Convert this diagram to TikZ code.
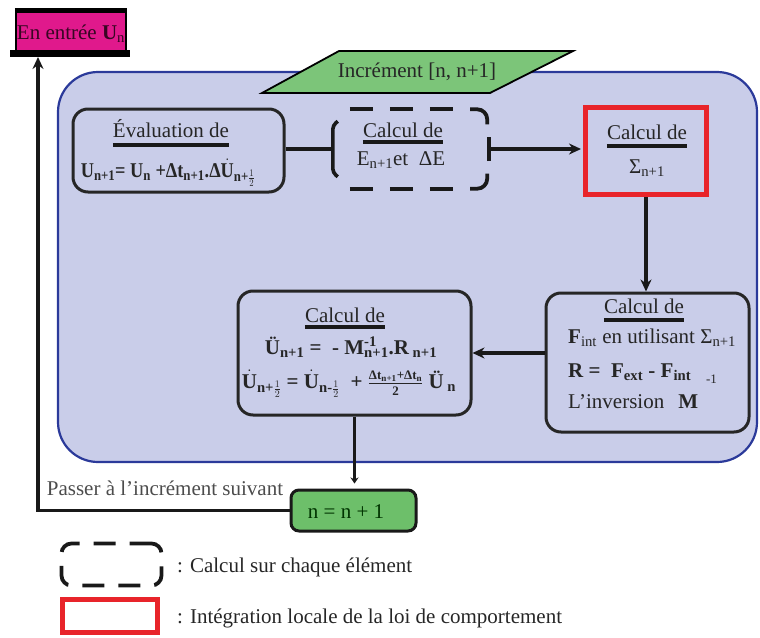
\documentclass[tikz,border=0pt]{standalone}
\usepackage{fontspec}
\setmainfont{Liberation Serif}
\usetikzlibrary{arrows.meta,calc}
\definecolor{bgc}{HTML}{C9CDE9}
\definecolor{bdr}{HTML}{2B3A9A}
\definecolor{grn}{HTML}{6DBF6A}
\definecolor{mag}{HTML}{E0198C}
\definecolor{rd}{HTML}{E8242A}
\newcommand\sbs[1]{\textsubscript{#1}}
\newcommand\sps[1]{\textsuperscript{#1}}
\newcommand\Ud{\ensuremath{\dot{\mbox{\bfseries U}}}}
\newcommand\hlf{\ensuremath{\frac{1}{2}}}
\newcommand\smf{\fontsize{13}{15}\selectfont}
\begin{document}
\begin{tikzpicture}[x=1pt,y=-1pt,
  fs/.style={font=\fontsize{21}{24}\selectfont, text=black!85, inner sep=0pt},
  rbox/.style={draw=black!85, line width=3pt, rounded corners=15pt, inner sep=0pt},
  ul/.style={line width=3.6pt, black!90},
  conn/.style={line width=3.2pt, black!90},
  tip/.style={-{Stealth[length=12pt,width=11pt]}},
  dsh/.style={line width=3.8pt, black!90, dash pattern=on 23pt off 17pt},
  dcorner/.style={line width=3.8pt, black!90, rounded corners=10pt}]
\useasboundingbox (0,0) rectangle (760,637);

% big background region
\node[draw=bdr, fill=bgc, line width=2.2pt, rounded corners=40pt,
      minimum width=699pt, minimum height=390pt, inner sep=0pt] (B) at (407.5,267) {};

% parallelogram
\draw[fill=grn!90!white, draw=black, line width=1.8pt] (262,93) -- (490,93) -- (573,51) -- (339,51) -- cycle;
\node[fs] (P) at (417,72) {Incrément [n, n+1]};

% input box
\node[draw=black, fill=mag, line width=2.2pt, minimum width=110pt, minimum height=40pt, inner sep=0pt] (M) at (71,32) {};
\draw[line width=5pt] (M.north west) -- (M.north east);
\draw[line width=7pt] (10,53.5) -- (130,53.5);
\coordinate (Mb) at (71,57);
\node[fs, text=black!75!mag, anchor=base] (Mt) at (71,39) {En entrée \textbf{U}\sbs{n}};

% Evaluation box
\node[rbox, minimum width=211pt, minimum height=83pt] (E) at (178.5,150.5) {};
\node[fs, anchor=base] (Eh) at (171,137) {Évaluation de};
\draw[ul] ([yshift=-8pt]Eh.base west) -- ([yshift=-8pt]Eh.base east);
\node[fs, anchor=base] (Ef) at (168,177) {\scalebox{0.87}[1]{\textbf{U\sbs{n+1}= U\sbs{n} +Δt\sbs{n+1}.Δ\Ud\sbs{n+\hlf}}}};

% dashed box (element level)
\node[minimum width=154pt, minimum height=79pt, inner sep=0pt] (D) at (410,149) {};
\draw[dsh] ([xshift=17pt]D.north west) -- ([xshift=-30pt]D.north east);
\draw[dsh] ([xshift=17pt]D.south west) -- ([xshift=-30pt]D.south east);
\draw[dcorner] ([xshift=-17pt]D.north east) -- (D.north east) -- ([yshift=-15pt]D.north east);
\draw[dcorner] ([xshift=-17pt]D.south east) -- (D.south east) -- ([yshift=15pt]D.south east);
\draw[line width=3.6pt, black!90, rounded corners=4pt] ([xshift=5pt,yshift=-12pt]D.north west) -- ([yshift=-16pt]D.north west) -- ([yshift=16pt]D.south west) -- ([xshift=5pt,yshift=12pt]D.south west);
\node[fs, anchor=base] (Dh) at (403,137) {Calcul de};
\draw[ul] ([yshift=-5pt]Dh.base west) -- ([yshift=-5pt]Dh.base east);
\node[fs, anchor=base] (Df) at (401,165) {E\sbs{n+1}et~ ΔE};

% red box (constitutive law)
\node[draw=rd, line width=5pt, minimum width=121pt, minimum height=87pt, inner sep=0pt] (R) at (646,151) {};
\node[fs, anchor=base] (Rh) at (647,139) {Calcul de};
\draw[ul] ([yshift=-7pt]Rh.base west) -- ([yshift=-7pt]Rh.base east);
\node[fs, anchor=base] (Rf) at (647,173) {Σ\sbs{n+1}};

% right box
\node[rbox, minimum width=203pt, minimum height=139pt] (F) at (647.5,362.5) {};
\node[fs, anchor=base] (Fh) at (644,313) {Calcul de};
\draw[ul] ([yshift=-7pt]Fh.base west) -- ([yshift=-7pt]Fh.base east);
\node[fs, anchor=base west] (F1) at (568,343) {\textbf{F}\sbs{int} en utilisant Σ\sbs{n+1}};
\node[fs, anchor=base west] (F2) at (568,377) {\textbf{R =~ F\sbs{ext} - F\sbs{int}}};
\node[fs, anchor=base west] (F3) at (568,408) {L'inversion\hspace{14pt}\textbf{M}\hspace{8pt}\raisebox{25pt}{\smf -1}};

% left box
\node[rbox, minimum width=233pt, minimum height=124pt] (L) at (354.5,353) {};
\node[fs, anchor=base] (Lh) at (345,322) {Calcul de};
\draw[ul] ([yshift=-5pt]Lh.base west) -- ([yshift=-5pt]Lh.base east);
\node[fs, anchor=base] (L1) at (351,354) {\textbf{Ü\sbs{n+1} = ~- M\rlap{\sps{-1}}\sbs{n+1}.R\sbs{~n+1}}};
\node[fs, anchor=base] (L2) at (349,388) {\textbf{\Ud\sbs{n+\hlf} = \Ud\sbs{n-\hlf}~ + \ensuremath{\frac{\mbox{\smf\bfseries Δt\sbs{n+1}+Δt\sbs{n}}}{\mbox{\smf\bfseries 2}}} Ü\sbs{~n}}};

% increment box
\node[draw=black!90, fill=grn, line width=3pt, rounded corners=8pt, minimum width=125pt, minimum height=41pt, inner sep=0pt] (G) at (353.5,510.5) {};
\node[fs, text=black!80!green] (Gt) at (346,512) {n = n + 1};
\node[fs, text=black!70] (Pt) at (165,488) {Passer à l'incrément suivant};

% connectors
\draw[conn] (E.east |- D.west) -- (D.west);
\draw[conn, {Bar[width=24pt,line width=3.8pt]}-{Stealth[length=12pt,width=11pt]}] (D.east) -- ([xshift=-2pt]D.east -| R.west);
\draw[conn, tip] (R.south) -- (R.south |- F.north);
\draw[conn, tip] (F.west |- L.east) -- (L.east);
\draw[conn, -{Stealth[length=6pt,width=8pt]}, shorten >=5pt] (L.south) -- (L.south |- G.north);
\coordinate (lft) at (38,0);
\draw[conn, tip] (G.west) -- (G.west -| lft) -- (lft |- Mb);

% legend
\node[draw=black!90, dash pattern=on 22pt off 14pt, line width=3.8pt, rounded corners=10pt,
      minimum width=100pt, minimum height=42pt, inner sep=0pt] (LD) at (111.5,564.5) {};
\node[fs, anchor=west] (LDt) at (177,567) {: Calcul sur chaque élément};
\node[draw=rd, line width=5pt, minimum width=95pt, minimum height=33pt, inner sep=0pt] (LR) at (110,615.5) {};
\node[fs, anchor=west] (LRt) at (177,618) {: Intégration locale de la loi de comportement};
\end{tikzpicture}
\end{document}
